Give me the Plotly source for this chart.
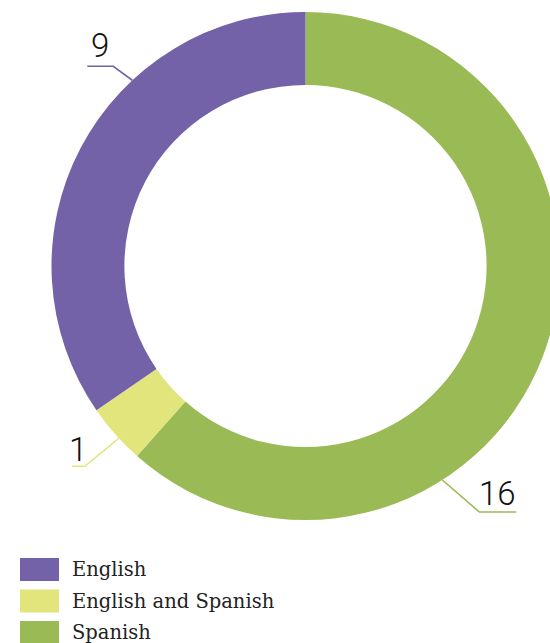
import math
import plotly.graph_objects as go

# Language of instruction, counts per category
categories = ["Spanish", "English and Spanish", "English"]
counts = [16, 1, 9]
colors = ["#9aba55", "#e2e47c", "#7462a8"]

legend_order = ["English", "English and Spanish", "Spanish"]

W, H = 560, 643
CX, CY = 305.5, 266.0      # donut centre in page pixels
R_OUT = 254.0
HOLE = 0.713

# Leader line layout per category: angle on the rim (deg, clockwise from top),
# elbow offset and horizontal run in pixels
leaders = {
    "English": dict(angle=317.0, elbow=(-19, -14), run=-26, dy=-21),
    "English and Spanish": dict(angle=227.3, elbow=(-34, 28), run=-13, dy=-17),
    "Spanish": dict(angle=147.4, elbow=(37, 32), run=37, dy=-18),
}


def px(x):
    return x / W


def py(y):
    return 1 - y / H


fig = go.Figure(
    go.Pie(
        labels=categories,
        values=counts,
        hole=HOLE,
        sort=False,
        direction="clockwise",
        rotation=0,
        textinfo="none",
        hoverinfo="label+value",
        marker=dict(colors=colors, line=dict(width=0)),
        showlegend=False,
        domain=dict(x=[px(CX - R_OUT), px(CX + R_OUT)],
                    y=[py(CY + R_OUT), py(CY - R_OUT)]),
    )
)

shapes = []
annotations = []
for name, value, color in zip(categories, counts, colors):
    ld = leaders[name]
    a = math.radians(ld["angle"])
    x0 = CX + R_OUT * math.sin(a)
    y0 = CY - R_OUT * math.cos(a)
    x1 = x0 + ld["elbow"][0]
    y1 = y0 + ld["elbow"][1]
    x2 = x1 + ld["run"]
    path = f"M{px(x0)},{py(y0)} L{px(x1)},{py(y1)} L{px(x2)},{py(y1)}"
    shapes.append(dict(type="path", xref="paper", yref="paper", path=path,
                       line=dict(color=color, width=1.6)))
    annotations.append(dict(
        x=px((x1 + x2) / 2), y=py(y1 + ld["dy"]), xref="paper", yref="paper",
        text=str(value), showarrow=False, xanchor="center", yanchor="middle",
        font=dict(family="Roboto", size=33, color="#111111", weight=300),
    ))

# Legend drawn as swatches and labels
color_of = dict(zip(categories, colors))
for i, name in enumerate(legend_order):
    yc = 569.5 + 31.5 * i
    shapes.append(dict(type="rect", xref="paper", yref="paper",
                       x0=px(20), x1=px(59), y0=py(yc - 11.5), y1=py(yc + 11.5),
                       fillcolor=color_of[name], line=dict(width=0)))
    annotations.append(dict(
        x=px(70), y=py(yc), xref="paper", yref="paper", text=name,
        showarrow=False, xanchor="left", yanchor="middle",
        font=dict(family="DejaVu Serif", size=19.5, color="#222222"),
    ))

fig.update_layout(
    width=W, height=H,
    margin=dict(l=0, r=0, t=0, b=0),
    paper_bgcolor="white",
    plot_bgcolor="white",
    shapes=shapes,
    annotations=annotations,
)

fig.write_html(
    "out.html",
    post_script="document.body.style.overflow='hidden';"
                "document.documentElement.style.overflow='hidden';",
)
